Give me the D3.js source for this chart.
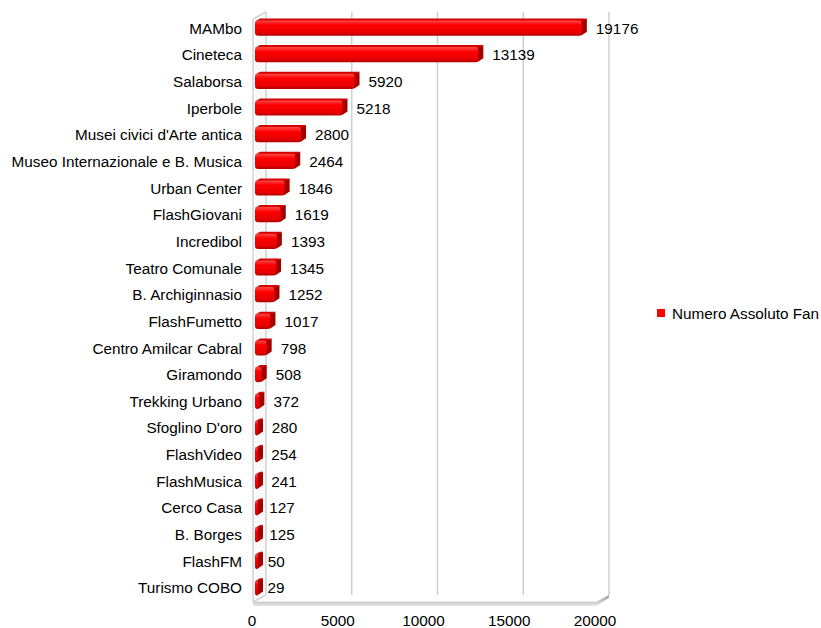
<!DOCTYPE html>
<html>
<head>
<meta charset="utf-8">
<script src="https://cdnjs.cloudflare.com/ajax/libs/d3/7.8.5/d3.min.js"></script>
<style>
body { margin: 0; background: #fff; }
text { font-family: "Liberation Sans", Arial, sans-serif; fill: #000; }
</style>
</head>
<body>
<div id="chart"></div>
<script>
// data
var categories = ["MAMbo", "Cineteca", "Salaborsa", "Iperbole", "Musei civici d'Arte antica",
    "Museo Internazionale e B. Musica", "Urban Center", "FlashGiovani", "Incredibol",
    "Teatro Comunale", "B. Archiginnasio", "FlashFumetto", "Centro Amilcar Cabral",
    "Giramondo", "Trekking Urbano", "Sfoglino D'oro", "FlashVideo", "FlashMusica",
    "Cerco Casa", "B. Borges", "FlashFM", "Turismo COBO"];
var fans = [19176, 13139, 5920, 5218, 2800, 2464, 1846, 1619, 1393, 1345, 1252, 1017,
    798, 508, 372, 280, 254, 241, 127, 125, 50, 29];
var xTicks = [0, 5000, 10000, 15000, 20000];
var seriesName = "Numero Assoluto Fan";

var svgWidth = 821, svgHeight = 628;
var fontSize = 15.3;

// 3d depth offset (back wall -> front)
var depth = {dx: -13, dy: 7};
var wallTop = 12, wallBottom = 595;

var svg = d3.select('#chart')
    .append('svg')
    .attr('width', svgWidth)
    .attr('height', svgHeight);

var defs = svg.append('defs');

var barGrad = defs.append('linearGradient')
    .attr('id', 'barGrad').attr('x1', 0).attr('y1', 0).attr('x2', 0).attr('y2', 1);
barGrad.append('stop').attr('offset', '0%').attr('stop-color', '#ff4a4a');
barGrad.append('stop').attr('offset', '30%').attr('stop-color', '#ff0000');
barGrad.append('stop').attr('offset', '80%').attr('stop-color', '#e60000');
barGrad.append('stop').attr('offset', '100%').attr('stop-color', '#b00000');

var floorGrad = defs.append('linearGradient')
    .attr('id', 'floorGrad').attr('x1', 0).attr('y1', 0).attr('x2', 0).attr('y2', 1);
floorGrad.append('stop').attr('offset', '0%').attr('stop-color', '#9a9a9a');
floorGrad.append('stop').attr('offset', '100%').attr('stop-color', '#e8e8e8');

// back wall scale and front scale
var xBack = d3.scaleLinear().domain([0, 20000]).range([266, 609]);
var xFront = d3.scaleLinear().domain([0, 20000]).range([266 + depth.dx, 609 + depth.dx]);

var yScale = d3.scaleBand()
    .domain(categories)
    .range([14.7, 601.3])
    .paddingInner(0.43)
    .paddingOuter(0.215);

// left wall
var lw = [[xBack(0), wallTop], [xBack(0), wallBottom],
    [xFront(0), wallBottom + depth.dy], [xFront(0), wallTop + depth.dy]];
svg.append('polygon')
    .attr('points', lw.map(p => p.join(',')).join(' '))
    .attr('fill', '#fafafa')
    .attr('stroke', '#c8c8c8')
    .attr('stroke-width', 1.2);

// gridlines on back wall
svg.selectAll('.grid')
    .data(xTicks.slice(1))
    .enter()
    .append('line')
    .attr('x1', d => xBack(d)).attr('x2', d => xBack(d))
    .attr('y1', wallTop).attr('y2', wallBottom)
    .attr('stroke', '#cfcfcf')
    .attr('stroke-width', 1.5);

// floor
var fy = wallBottom + depth.dy;
svg.append('polygon')
    .attr('points', [[xFront(0), fy], [xFront(20000), fy], [xBack(20000), wallBottom],
        [xBack(20000), wallBottom + 3], [xFront(20000), fy + 4], [xFront(0), fy + 4]]
        .map(p => p.join(',')).join(' '))
    .attr('fill', 'url(#floorGrad)');
svg.append('line')
    .attr('x1', xFront(0)).attr('x2', xFront(20000))
    .attr('y1', fy).attr('y2', fy)
    .attr('stroke', '#d0d0d0');

// bars
var bh = yScale.bandwidth();
var cap = {dx: 5, dy: -3};
var bars = svg.selectAll('.bar')
    .data(categories)
    .enter()
    .append('g')
    .attr('class', 'bar');

bars.each(function(c, i) {
    var g = d3.select(this);
    var x0 = xFront(0) + 2;
    var x1 = Math.max(xFront(fans[i]), x0 + 3);
    var y0 = yScale(c);
    // top face
    g.append('polygon')
        .attr('points', [[x0, y0 + 1], [x0 + cap.dx, y0 + cap.dy + 1], [x1 + cap.dx, y0 + cap.dy + 1], [x1, y0 + 1]]
            .map(p => p.join(',')).join(' '))
        .attr('fill', '#d40000');
    // end face
    g.append('polygon')
        .attr('points', [[x1 - 1, y0 + 1], [x1 + cap.dx, y0 + cap.dy + 1], [x1 + cap.dx, y0 + bh + cap.dy - 1], [x1 - 1, y0 + bh]]
            .map(p => p.join(',')).join(' '))
        .attr('fill', '#a50000');
    // front face
    g.append('rect')
        .attr('x', x0)
        .attr('y', y0)
        .attr('width', x1 - x0)
        .attr('height', bh)
        .attr('rx', 3)
        .attr('fill', 'url(#barGrad)');
});

// value labels
svg.selectAll('.val')
    .data(categories)
    .enter()
    .append('text')
    .attr('x', (c, i) => xFront(fans[i]) + 14)
    .attr('y', c => yScale(c) + bh / 2)
    .attr('dy', '0.36em')
    .attr('font-size', fontSize)
    .text((c, i) => fans[i]);

// category labels
svg.selectAll('.cat')
    .data(categories)
    .enter()
    .append('text')
    .attr('x', 242)
    .attr('y', c => yScale(c) + bh / 2)
    .attr('dy', '0.36em')
    .attr('text-anchor', 'end')
    .attr('font-size', fontSize)
    .text(c => c);

// x axis labels
svg.selectAll('.xtick')
    .data(xTicks)
    .enter()
    .append('text')
    .attr('x', d => xFront(d) - 1)
    .attr('y', 626)
    .attr('text-anchor', 'middle')
    .attr('font-size', fontSize)
    .text(d => d);

// legend
var legend = svg.append('g').attr('transform', 'translate(657,313)');
legend.append('rect')
    .attr('x', 0).attr('y', -4)
    .attr('width', 8).attr('height', 8)
    .attr('fill', '#ff0000');
legend.append('text')
    .attr('x', 15).attr('y', 0)
    .attr('dy', '0.36em')
    .attr('font-size', fontSize)
    .text(seriesName);
</script>
</body>
</html>
